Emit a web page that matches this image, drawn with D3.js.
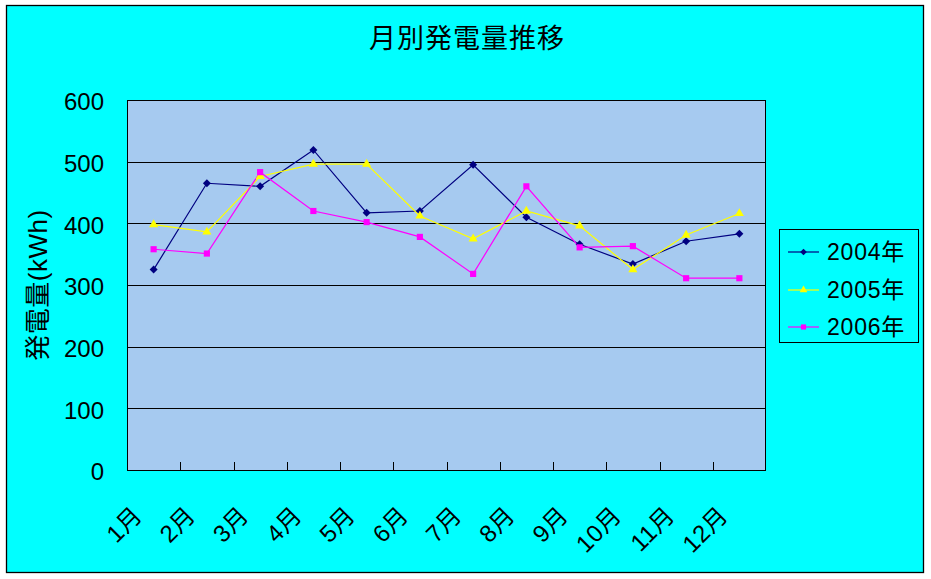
<!DOCTYPE html>
<html>
<head>
<meta charset="utf-8">
<script src="https://cdn.jsdelivr.net/npm/d3@7"></script>
<style>
html, body { margin: 0; padding: 0; background: #fff; }
svg { display: block; }
text { font-family: "Liberation Sans", "Noto Sans CJK JP", sans-serif; fill: #000; }
</style>
</head>
<body>
<svg id="chart" width="931" height="579"></svg>
<script>
const categories = ["1月","2月","3月","4月","5月","6月","7月","8月","9月","10月","11月","12月"];
const seriesNames = ["2004年","2005年","2006年"];
const values2004 = [325, 465, 460, 519, 417, 420, 495, 410, 366, 334, 371, 383];
const values2005 = [398, 386, 476, 496, 496, 412, 375, 420, 396, 325, 381, 416];
const values2006 = [358, 351, 483, 420, 402, 378, 318, 460, 361, 363, 311, 311];
const yTicks = [0, 100, 200, 300, 400, 500, 600];
const chartTitle = "月別発電量推移";
const yTitle = "発電量(kWh)";

const colors = ["#000080", "#FFFF00", "#FF00FF"];
const symbols = [d3.symbolSquare, d3.symbolTriangle, d3.symbolSquare];
const symRot = [45, 0, 0];
const symSizes = [32, 36, 38];
const allSeries = [values2004, values2005, values2006];

const svg = d3.select("#chart");
const W = 931, H = 579;
const plot = {left: 127, top: 100, right: 766, bottom: 470};

svg.append("rect").attr("x", 0).attr("y", 0).attr("width", W).attr("height", H).attr("fill", "#fff");
svg.append("rect").attr("x", 6.5).attr("y", 5.5).attr("width", 917).attr("height", 567)
  .attr("fill", "#00FFFF").attr("stroke", "#000").attr("stroke-width", 1.3);

const x = d3.scaleBand().domain(categories).range([plot.left, plot.right]).padding(0);
const y = d3.scaleLinear().domain([0, 600]).range([plot.bottom, plot.top]);

svg.append("rect").attr("x", plot.left).attr("y", plot.top)
  .attr("width", plot.right - plot.left).attr("height", plot.bottom - plot.top)
  .attr("fill", "#A6CAF0");

svg.append("g").selectAll("line").data(yTicks.filter(d => d > 0 && d < 600)).join("line")
  .attr("x1", plot.left).attr("x2", plot.right)
  .attr("y1", d => Math.round(y(d)) + 0.5).attr("y2", d => Math.round(y(d)) + 0.5)
  .attr("stroke", "#000").attr("stroke-width", 1);

const bounds = categories.slice(1).map(c => x(c));
svg.append("g").selectAll("line").data(bounds).join("line")
  .attr("x1", d => Math.round(d) + 0.5).attr("x2", d => Math.round(d) + 0.5)
  .attr("y1", plot.bottom).attr("y2", plot.bottom - 8)
  .attr("stroke", "#000").attr("stroke-width", 1);

svg.append("rect").attr("x", plot.left + 0.5).attr("y", plot.top + 0.5)
  .attr("width", plot.right - plot.left - 1).attr("height", plot.bottom - plot.top)
  .attr("fill", "none").attr("stroke", "#000").attr("stroke-width", 1);

const yAxis = d3.axisLeft(y).tickValues(yTicks).tickSize(0).tickPadding(0);
const yg = svg.append("g").attr("transform", `translate(104,2)`).call(yAxis);
yg.select(".domain").remove();
yg.selectAll("text").attr("font-size", 24).attr("font-family", "'Liberation Sans', sans-serif").attr("fill", "#000");

svg.append("g").selectAll("text").data(categories).join("text")
  .attr("transform", d => `translate(${x(d) + x.bandwidth() / 2 - 10},517) rotate(-45)`)
  .attr("text-anchor", "end")
  .attr("font-size", 24)
  .attr("letter-spacing", 0.5)
  .text(d => d);

const line = d3.line().x((d, i) => x(categories[i]) + x.bandwidth() / 2).y(d => y(d));
allSeries.forEach((vals, si) => {
  svg.append("path").datum(vals).attr("d", line)
    .attr("fill", "none").attr("stroke", colors[si]).attr("stroke-width", 1.2);
});
allSeries.forEach((vals, si) => {
  svg.append("g").selectAll("path").data(vals).join("path")
    .attr("transform", (d, i) => `translate(${x(categories[i]) + x.bandwidth() / 2},${y(d)}) rotate(${symRot[si]})`)
    .attr("d", d3.symbol().type(symbols[si]).size(symSizes[si]))
    .attr("fill", colors[si]);
});

svg.append("text").attr("x", 467).attr("y", 48).attr("text-anchor", "middle")
  .attr("font-size", 27).attr("letter-spacing", 1).attr("font-family", "'Noto Sans CJK JP', sans-serif").text(chartTitle);

svg.append("text").attr("transform", "translate(47,285) rotate(-90)")
  .attr("text-anchor", "middle").attr("font-size", 26).attr("letter-spacing", 0.5).text(yTitle);

const lg = svg.append("g");
lg.append("rect").attr("x", 779.5).attr("y", 229.5).attr("width", 139).attr("height", 113)
  .attr("fill", "#00FFFF").attr("stroke", "#000").attr("stroke-width", 1);
const rowsY = [252, 290, 327];
seriesNames.forEach((name, si) => {
  lg.append("line").attr("x1", 788).attr("x2", 819).attr("y1", rowsY[si]).attr("y2", rowsY[si])
    .attr("stroke", colors[si]).attr("stroke-width", 1.2);
  lg.append("path").attr("transform", `translate(803.5,${rowsY[si]}) rotate(${symRot[si]})`)
    .attr("d", d3.symbol().type(symbols[si]).size(symSizes[si] * 0.7)).attr("fill", colors[si]);
  lg.append("text").attr("x", 827).attr("y", rowsY[si] + 8).attr("font-size", 23)
    .attr("letter-spacing", 0.8).text(name);
});
</script>
</body>
</html>
